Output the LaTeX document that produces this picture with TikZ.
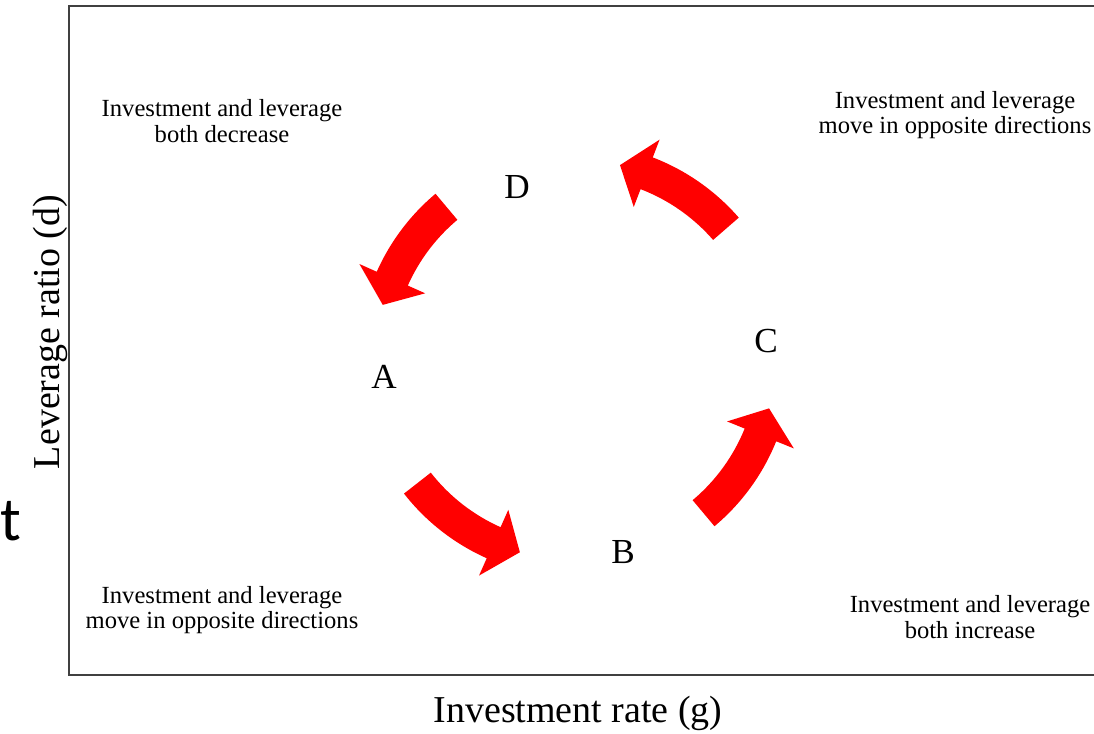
\documentclass[tikz,border=0pt]{standalone}
\usepackage{fontspec}
\setmainfont{Liberation Serif}
\newfontfamily\slidefont{Carlito}
\usepackage{tikz}

\begin{document}
\begin{tikzpicture}[
    x = 0.025cm, y = 0.025cm,
    frame/.style = {draw = black!75, line width = 1.4pt},
    phase/.style = {font = \fontsize{25}{30}\selectfont},
    quadrant/.style = {align = center, font = \fontsize{17.5}{18}\selectfont},
    axislabel/.style = {font = \fontsize{27}{32}\selectfont},
    flow/.style = {fill = red}
    ]
    \useasboundingbox (0,0) rectangle (1094,733);
    \draw[frame] (1094,727) -- (69,727) -- (69,58) -- (1094,58);
    \coordinate (O) at (575,373);
    % phases of the cycle
    \node[phase] (D) at (517,546) {D};
    \node[phase] (A) at (384,356) {A};
    \node[phase] (B) at (623,181) {B};
    \node[phase] (C) at (766,392) {C};
    % quadrant notes
    \node[quadrant] (nw) at (222,612) {Investment and leverage\\both decrease};
    \node[quadrant] (ne) at (955,618) {Investment and leverage\\move in opposite directions};
    \node[quadrant] (sw) at (222,123) {Investment and leverage\\move in opposite directions};
    \node[quadrant] (se) at (970,116) {Investment and leverage\\both increase};
    % axes
    \node[axislabel, anchor = base] (xlabel) at (578,11) {Investment rate (g)};
    \node[axislabel, anchor = base, rotate = 90] (ylabel) at (59,401) {Leverage ratio (d)};
    \node[font = \slidefont\fontsize{44}{50}\selectfont, anchor = base west, inner sep = 0pt] (cut) at (0,193) {t};
    % curved arrows round the centre
    \foreach \a/\b in {130/164, 218/254, 310/346, 41/77}
        \fill[flow, shift = {(O)}] (\a:217) arc[start angle = \a, end angle = \b-8, radius = 217]
            -- ({\b-8}:236) -- (\b:200) -- ({\b-8}:164) -- ({\b-8}:183)
            arc[start angle = \b-8, end angle = \a, radius = 183] -- cycle;
\end{tikzpicture}
\end{document}
